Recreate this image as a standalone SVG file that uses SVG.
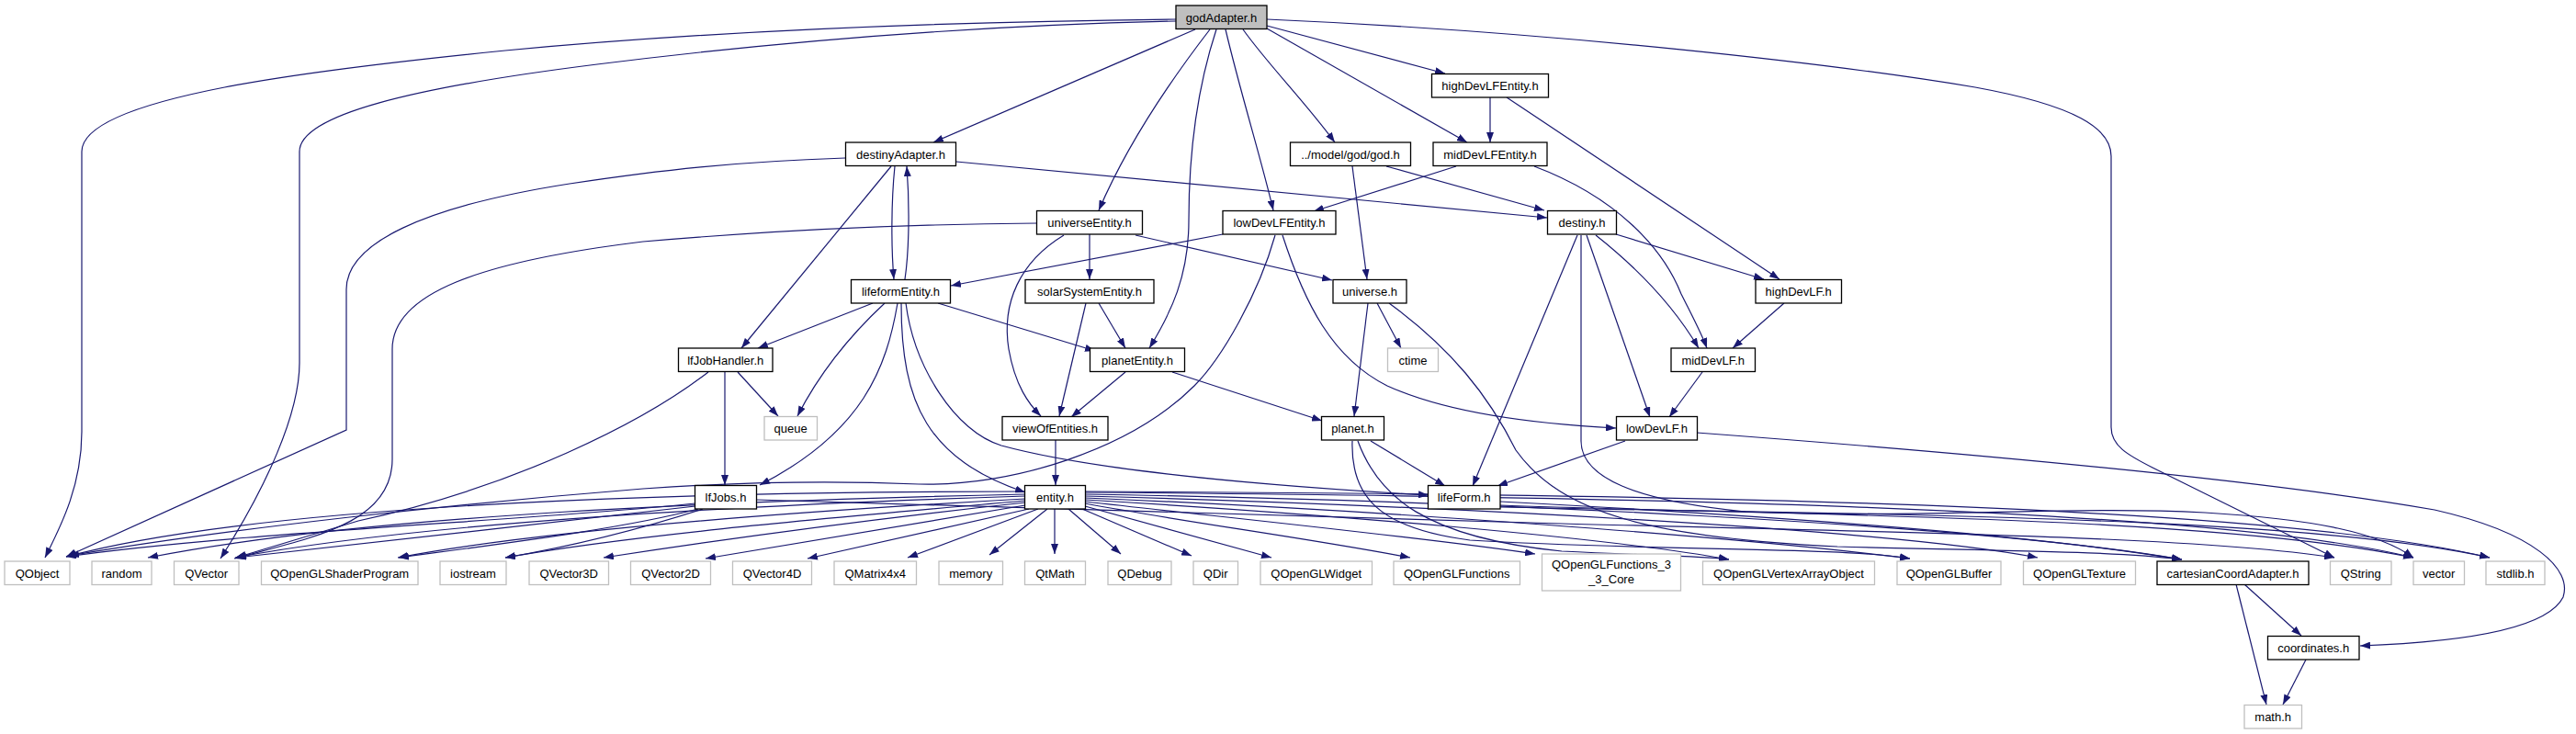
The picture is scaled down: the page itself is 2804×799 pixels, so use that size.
<svg xmlns="http://www.w3.org/2000/svg" width="2804" height="799" viewBox="0 0 2804 799">
<style>
.n rect{fill:#fff;stroke:#000;stroke-width:1.3}
.x rect{fill:#fff;stroke:#bfbfbf;stroke-width:1.3}
.r rect{fill:#bfbfbf;stroke:#000;stroke-width:1.3}
text{font-family:"Liberation Sans",Arial,sans-serif;font-size:13px;fill:#000;text-anchor:middle}
#edges path{fill:none;stroke:#191970;stroke-width:1.2;marker-end:url(#ah)}
</style>
<defs>
<marker id="ah" viewBox="0 0 11 8" refX="11" refY="4" markerWidth="11" markerHeight="8" orient="auto" markerUnits="userSpaceOnUse"><path d="M0,0 L11,4 L0,8 z" fill="#191970"/></marker>
</defs>
<rect width="2804" height="799" fill="#fff"/>
<g id="edges">
<path d="M1280,21 C1000,24 750,36 550,55 C350,75 89,105 89,165 L89,470 C89,530 65,575 49,607"/>
<path d="M1280,23 C1050,28 850,45 650,70 C450,95 326,125 326,165 L326,395 C326,450 290,530 240,608"/>
<path d="M1301,32 L1016,155"/>
<path d="M1317,32 C1280,80 1230,150 1196,229"/>
<path d="M1324,32 C1305,90 1294,160 1294,240 C1294,300 1275,340 1251,379"/>
<path d="M1334,32 C1350,100 1372,170 1386,229"/>
<path d="M1353,32 C1380,70 1420,110 1453,155"/>
<path d="M1379,31 L1597,155"/>
<path d="M1379,28 L1573,80"/>
<path d="M1379,21 C1700,35 2000,70 2150,95 C2260,115 2298,140 2298,170 L2298,465 C2298,485 2315,495 2345,510 L2541,607"/>
<path d="M920,172 C800,176 720,185 620,200 C460,225 377,265 377,315 L377,468 L72,606"/>
<path d="M1128,243 C1000,244 850,250 700,263 C520,285 427,320 427,380 L427,500 C427,570 340,585 255,608"/>
<path d="M974,181 C970,220 970,270 973,304"/>
<path d="M985,304 C990,270 990,220 987,181"/>
<path d="M970,181 L807,379"/>
<path d="M1041,176 L1684,237"/>
<path d="M1186,255 L1186,304"/>
<path d="M1158,256 C1110,285 1090,330 1098,380 C1105,420 1120,440 1133,453"/>
<path d="M1236,256 L1450,305"/>
<path d="M1331,255 L1035,311"/>
<path d="M1388,256 C1370,320 1330,390 1300,420 C1230,490 1100,530 1000,527 C900,523 800,525 700,532 C500,548 250,575 75,605"/>
<path d="M1396,256 C1420,330 1450,390 1510,420 C1580,452 1680,462 1759,466"/>
<path d="M1472,181 L1488,304"/>
<path d="M1509,181 L1681,229"/>
<path d="M1585,181 L1430,230"/>
<path d="M1670,181 C1760,215 1810,270 1830,320 C1845,350 1853,365 1858,379"/>
<path d="M1622,106 L1622,155"/>
<path d="M1640,106 L1937,304"/>
<path d="M1759,255 L1920,304"/>
<path d="M1737,256 C1780,290 1820,330 1849,379"/>
<path d="M1727,256 L1796,454"/>
<path d="M1717,256 L1603,529"/>
<path d="M1721,256 L1721,480 C1721,520 1780,545 1900,557 C2100,565 2250,550 2400,558 C2520,565 2590,580 2627,607"/>
<path d="M1512,330 C1580,380 1620,430 1650,490 C1700,560 1800,585 2000,595 C2200,600 2300,600 2375,609"/>
<path d="M1499,330 L1525,379"/>
<path d="M1489,330 L1474,453"/>
<path d="M1276,405 L1439,458"/>
<path d="M1225,405 L1166,454"/>
<path d="M1196,330 L1225,379"/>
<path d="M1182,330 L1153,453"/>
<path d="M1149,479 L1149,528"/>
<path d="M1853,405 L1817,454"/>
<path d="M1942,330 L1886,379"/>
<path d="M950,330 L825,379"/>
<path d="M1021,330 L1192,382"/>
<path d="M963,330 C920,370 890,410 868,453"/>
<path d="M977,330 C965,400 940,470 827,528"/>
<path d="M981,330 C981,440 1010,500 1116,536"/>
<path d="M986,330 C995,400 1040,470 1090,485 C1200,515 1400,530 1555,539"/>
<path d="M803,405 L847,453"/>
<path d="M789,405 L789,528"/>
<path d="M771,405 C700,460 560,530 390,567 L257,607"/>
<path d="M1492,480 L1573,529"/>
<path d="M1769,480 L1630,529"/>
<path d="M1472,480 C1470,540 1500,575 1600,588 C1800,600 2000,595 2079,608"/>
<path d="M1478,480 C1500,540 1550,585 1700,600 C1800,605 1850,605 1882,609"/>
<path d="M1847,471 C2100,490 2450,520 2650,555 C2760,580 2800,620 2790,650 C2770,690 2650,700 2569,703"/>
<path d="M2443,636 L2505,692"/>
<path d="M2434,636 L2467,767"/>
<path d="M2510,718 L2485,767"/>
<path d="M1633,546 C1900,560 2200,580 2375,609"/>
<path d="M1633,550 C1900,560 2400,560 2627,607"/>
<path d="M1633,552 C2000,560 2500,560 2710,607"/>
<path d="M1116,535 C800,535 300,545 72,606"/>
<path d="M1116,538 C800,545 400,560 161,607"/>
<path d="M1116,540 C800,550 450,570 256,607"/>
<path d="M1116,543 C900,555 600,575 433,607"/>
<path d="M1116,545 C950,560 700,580 550,607"/>
<path d="M1116,547 C950,565 800,585 657,607"/>
<path d="M1116,550 L768,608"/>
<path d="M1120,554 L879,608"/>
<path d="M1130,554 L988,607"/>
<path d="M1140,554 L1077,604"/>
<path d="M1148,554 L1148,603"/>
<path d="M1163,554 L1220,603"/>
<path d="M1178,554 L1297,605"/>
<path d="M1181,551 L1384,607"/>
<path d="M1181,548 C1300,570 1420,585 1535,607"/>
<path d="M1181,546 C1350,565 1550,585 1671,603"/>
<path d="M1181,544 C1450,560 1750,585 1882,609"/>
<path d="M1181,542 C1500,555 1900,585 2079,608"/>
<path d="M1181,540 C1550,550 2050,575 2218,607"/>
<path d="M1181,538 C1600,545 2150,570 2375,609"/>
<path d="M1181,536 C1700,540 2400,550 2627,607"/>
<path d="M1181,535 C1750,538 2450,545 2710,607"/>
<path d="M757,548 C600,565 250,580 72,606"/>
<path d="M757,551 C600,570 400,590 257,607"/>
<path d="M760,554 C680,575 560,590 434,607"/>
<path d="M765,554 C700,575 620,595 550,607"/>
<path d="M823,544 C1100,550 1400,560 1700,570 C2100,580 2400,585 2541,607"/>
</g>
<g id="godAdapter" class="r"><rect x="1280" y="6" width="99" height="25.5"/><text x="1329.5" y="23.5">godAdapter.h</text></g>
<g id="highDevLFEntity" class="n"><rect x="1558.5" y="80.5" width="127" height="25.5"/><text x="1622" y="98">highDevLFEntity.h</text></g>
<g id="destinyAdapter" class="n"><rect x="920.5" y="155" width="120" height="25.5"/><text x="980.5" y="172.5">destinyAdapter.h</text></g>
<g id="godh" class="n"><rect x="1404.5" y="155" width="131" height="25.5"/><text x="1470" y="172.5">../model/god/god.h</text></g>
<g id="midDevLFEntity" class="n"><rect x="1560" y="155" width="124" height="25.5"/><text x="1622" y="172.5">midDevLFEntity.h</text></g>
<g id="universeEntity" class="n"><rect x="1128.5" y="229.5" width="115" height="25.5"/><text x="1186" y="247">universeEntity.h</text></g>
<g id="lowDevLFEntity" class="n"><rect x="1331" y="229.5" width="123" height="25.5"/><text x="1392.5" y="247">lowDevLFEntity.h</text></g>
<g id="destiny" class="n"><rect x="1684.5" y="229.5" width="75" height="25.5"/><text x="1722" y="247">destiny.h</text></g>
<g id="lifeformEntity" class="n"><rect x="926.5" y="304.5" width="108" height="25.5"/><text x="980.5" y="322">lifeformEntity.h</text></g>
<g id="solarSystemEntity" class="n"><rect x="1116" y="304.5" width="140" height="25.5"/><text x="1186" y="322">solarSystemEntity.h</text></g>
<g id="universe" class="n"><rect x="1451" y="304.5" width="80" height="25.5"/><text x="1491" y="322">universe.h</text></g>
<g id="highDevLF" class="n"><rect x="1911" y="304.5" width="93.5" height="25.5"/><text x="1957.7" y="322">highDevLF.h</text></g>
<g id="lfJobHandler" class="n"><rect x="738.5" y="379" width="102.5" height="25.5"/><text x="789.7" y="396.5">lfJobHandler.h</text></g>
<g id="planetEntity" class="n"><rect x="1186.5" y="379" width="103" height="25.5"/><text x="1238" y="396.5">planetEntity.h</text></g>
<g id="ctime" class="x"><rect x="1510.5" y="379" width="55" height="25.5"/><text x="1538" y="396.5">ctime</text></g>
<g id="midDevLF" class="n"><rect x="1819" y="379" width="91.5" height="25.5"/><text x="1864.7" y="396.5">midDevLF.h</text></g>
<g id="queue" class="x"><rect x="832" y="453.5" width="57.5" height="25.5"/><text x="860.7" y="471">queue</text></g>
<g id="viewOfEntities" class="n"><rect x="1091" y="453.5" width="115" height="25.5"/><text x="1148.5" y="471">viewOfEntities.h</text></g>
<g id="planet" class="n"><rect x="1438.5" y="453.5" width="68" height="25.5"/><text x="1472.5" y="471">planet.h</text></g>
<g id="lowDevLF" class="n"><rect x="1759.5" y="453.5" width="88" height="25.5"/><text x="1803.5" y="471">lowDevLF.h</text></g>
<g id="lfJobs" class="n"><rect x="756.5" y="528.5" width="67" height="25.5"/><text x="790" y="546">lfJobs.h</text></g>
<g id="entity" class="n"><rect x="1115.5" y="528.5" width="66" height="25.5"/><text x="1148.5" y="546">entity.h</text></g>
<g id="lifeForm" class="n"><rect x="1554.5" y="528.5" width="78.5" height="25.5"/><text x="1593.7" y="546">lifeForm.h</text></g>
<g id="QObject" class="x"><rect x="5" y="611" width="71" height="25.5"/><text x="40.5" y="628.5">QObject</text></g>
<g id="random" class="x"><rect x="100" y="611" width="65" height="25.5"/><text x="132.5" y="628.5">random</text></g>
<g id="QVector" class="x"><rect x="189.5" y="611" width="70.5" height="25.5"/><text x="224.7" y="628.5">QVector</text></g>
<g id="QOpenGLShaderProgram" class="x"><rect x="284.5" y="611" width="170.5" height="25.5"/><text x="369.7" y="628.5">QOpenGLShaderProgram</text></g>
<g id="iostream" class="x"><rect x="479" y="611" width="72" height="25.5"/><text x="515" y="628.5">iostream</text></g>
<g id="QVector3D" class="x"><rect x="576" y="611" width="86.5" height="25.5"/><text x="619.2" y="628.5">QVector3D</text></g>
<g id="QVector2D" class="x"><rect x="686.5" y="611" width="87" height="25.5"/><text x="730" y="628.5">QVector2D</text></g>
<g id="QVector4D" class="x"><rect x="797.5" y="611" width="86" height="25.5"/><text x="840.5" y="628.5">QVector4D</text></g>
<g id="QMatrix4x4" class="x"><rect x="908" y="611" width="89.5" height="25.5"/><text x="952.7" y="628.5">QMatrix4x4</text></g>
<g id="memory" class="x"><rect x="1022" y="611" width="69.5" height="25.5"/><text x="1056.7" y="628.5">memory</text></g>
<g id="QtMath" class="x"><rect x="1115.5" y="611" width="66" height="25.5"/><text x="1148.5" y="628.5">QtMath</text></g>
<g id="QDebug" class="x"><rect x="1206" y="611" width="69" height="25.5"/><text x="1240.5" y="628.5">QDebug</text></g>
<g id="QDir" class="x"><rect x="1299" y="611" width="48.5" height="25.5"/><text x="1323.2" y="628.5">QDir</text></g>
<g id="QOpenGLWidget" class="x"><rect x="1372" y="611" width="121.5" height="25.5"/><text x="1432.7" y="628.5">QOpenGLWidget</text></g>
<g id="QOpenGLFunctions" class="x"><rect x="1517" y="611" width="137.5" height="25.5"/><text x="1585.7" y="628.5">QOpenGLFunctions</text></g>
<g id="QOpenGLFunctions_3_3_Core" class="x"><rect x="1678.5" y="603" width="151" height="40"/><text x="1754" y="619">QOpenGLFunctions_3</text><text x="1754" y="635">_3_Core</text></g>
<g id="QOpenGLVertexArrayObject" class="x"><rect x="1853.5" y="611" width="187" height="25.5"/><text x="1947" y="628.5">QOpenGLVertexArrayObject</text></g>
<g id="QOpenGLBuffer" class="x"><rect x="2065" y="611" width="113" height="25.5"/><text x="2121.5" y="628.5">QOpenGLBuffer</text></g>
<g id="QOpenGLTexture" class="x"><rect x="2202.5" y="611" width="122" height="25.5"/><text x="2263.5" y="628.5">QOpenGLTexture</text></g>
<g id="cartesianCoordAdapter" class="n"><rect x="2348" y="611" width="165" height="25.5"/><text x="2430.5" y="628.5">cartesianCoordAdapter.h</text></g>
<g id="QString" class="x"><rect x="2536.5" y="611" width="66.5" height="25.5"/><text x="2569.7" y="628.5">QString</text></g>
<g id="vector" class="x"><rect x="2627" y="611" width="55.5" height="25.5"/><text x="2654.7" y="628.5">vector</text></g>
<g id="stdlib" class="x"><rect x="2706" y="611" width="64" height="25.5"/><text x="2738" y="628.5">stdlib.h</text></g>
<g id="coordinates" class="n"><rect x="2468.5" y="692.5" width="99.5" height="25.5"/><text x="2518.2" y="710">coordinates.h</text></g>
<g id="math" class="x"><rect x="2443" y="767.5" width="62.5" height="25.5"/><text x="2474.2" y="785">math.h</text></g>
</svg>
